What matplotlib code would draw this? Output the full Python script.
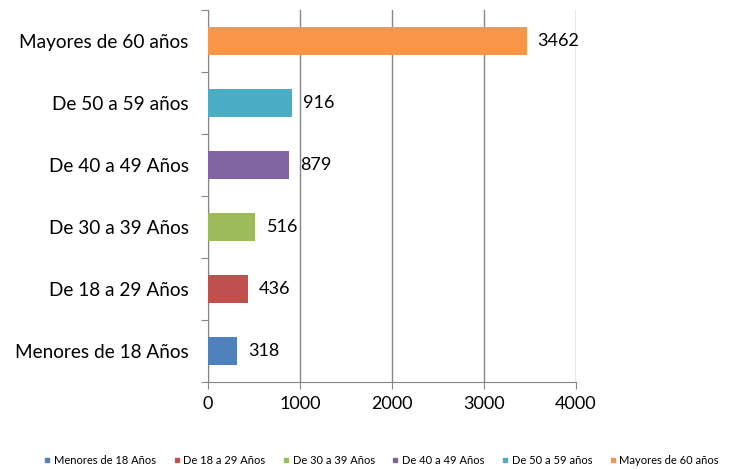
import matplotlib.pyplot as plt
from matplotlib.lines import Line2D

# datos
categorias = ['Menores de 18 Años', 'De 18 a 29 Años', 'De 30 a 39 Años',
              'De 40 a 49 Años', 'De 50 a 59 años', 'Mayores de 60 años']
valores = [318, 436, 516, 879, 916, 3462]
colores = ['#4F81BD', '#C0504D', '#9BBB59', '#8064A2', '#4BACC6', '#F79646']

plt.rcParams['font.family'] = ['Lato', 'DejaVu Sans']

fig = plt.figure(figsize=(7.5, 4.69), dpi=100)
ax = fig.add_axes([208 / 750, 1 - 382 / 469, 368 / 750, 372 / 469])

pos = list(range(len(categorias)))
ax.barh(pos, valores, height=0.45, color=colores, zorder=3)
for p, v in zip(pos, valores):
    ax.text(v + 120, p, str(v), va='center', ha='left', fontsize=13, color='black')

ax.set_xlim(0, 4000)
ax.set_ylim(-0.5, len(categorias) - 0.5)
ax.set_xticks([0, 1000, 2000, 3000, 4000])
ax.set_yticks([p - 0.5 for p in pos] + [len(categorias) - 0.5])
ax.set_yticklabels([])
ax.set_yticks(pos, minor=True)
ax.set_yticklabels(categorias, minor=True, fontsize=13.7)
ax.tick_params(axis='y', which='minor', length=0, pad=14)
ax.tick_params(axis='y', which='major', length=5, color='#868686')
ax.tick_params(axis='x', length=5, color='#868686', labelsize=13, pad=5)

ax.grid(axis='x', color='#868686', linewidth=1, zorder=0)
for s in ['top', 'right']:
    ax.spines[s].set_visible(False)
for s in ['left', 'bottom']:
    ax.spines[s].set_color('#868686')

handles = [Line2D([], [], marker='s', linestyle='', color=c, markersize=3.5) for c in colores]
fig.legend(handles, categorias, loc='center', bbox_to_anchor=(0.507, 1 - 460 / 469),
           ncol=6, frameon=False, fontsize=8, handletextpad=0.1, columnspacing=1.35,
           handlelength=1)

fig.savefig('out.png', dpi=100)
